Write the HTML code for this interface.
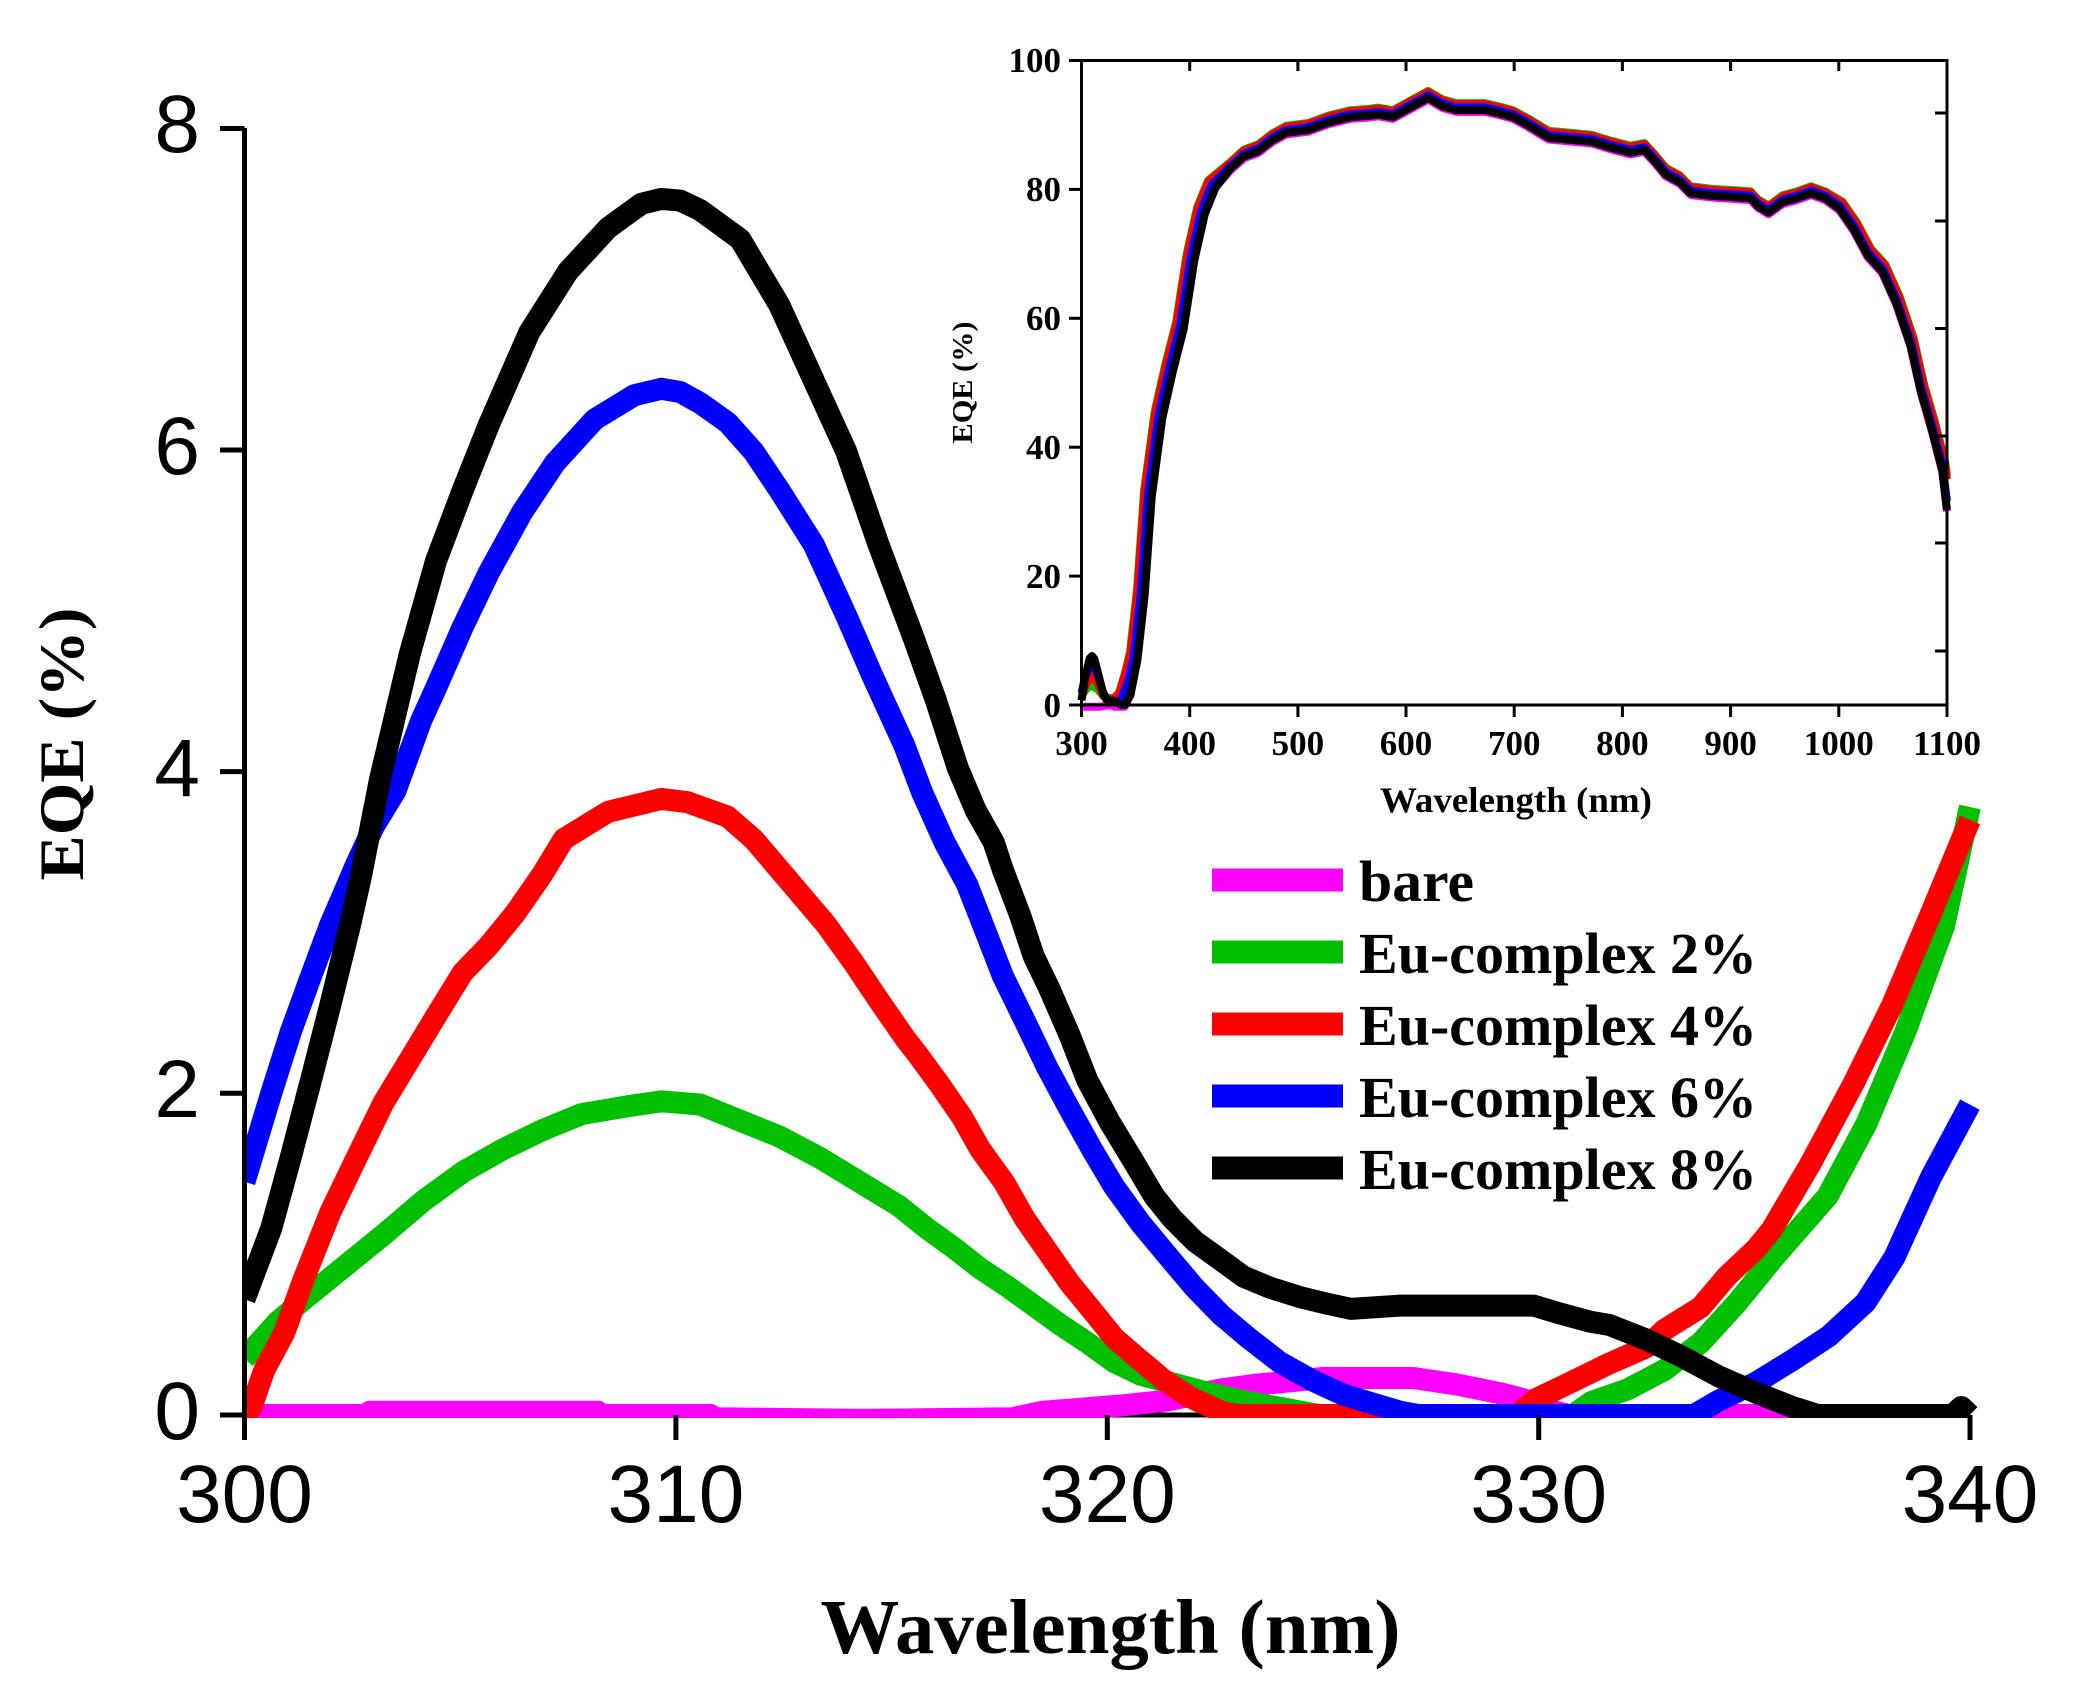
<!DOCTYPE html>
<html><head><meta charset="utf-8"><style>
html,body{margin:0;padding:0;background:#fff;overflow:hidden}
svg{display:block}
.s{font-family:"Liberation Sans",Arial,sans-serif}
.t{font-family:"Liberation Serif","Times New Roman",serif;font-weight:bold}
</style></head><body>
<svg width="2073" height="1707" viewBox="0 0 2073 1707" xmlns="http://www.w3.org/2000/svg">
<rect x="0" y="0" width="2073" height="1707" fill="#fff"/>
<defs><clipPath id="mc"><rect x="242" y="0" width="1760" height="1418"/></clipPath></defs>

<!-- main x axis (under curves) -->
<line x1="244.5" y1="1415" x2="1970" y2="1415" stroke="#000" stroke-width="5"/>

<!-- main curves -->
<g clip-path="url(#mc)">
<g transform="translate(244.5,1415) scale(43.135,-160.85)" fill="none" stroke-width="22" stroke-linejoin="round" stroke-linecap="butt">
<polyline vector-effect="non-scaling-stroke" stroke="#FF00FF" points="0,0 2.8,0 2.9,0.02 8.2,0.02 8.3,0 10.8,0 10.9,-0.02 14.4,-0.03 17.8,-0.02 18.5,0.02 20.37,0.06 21.4,0.09 22.65,0.16 23.5,0.19 25,0.23 27.1,0.23 28.1,0.19 29.2,0.13 29.9,0.08 30.4,0.02 30.7,0 40,0"/>
<polyline vector-effect="non-scaling-stroke" stroke="#00C000" points="0,0.35 0.77,0.58 1.38,0.72 2.3,0.92 3.22,1.12 4.14,1.33 5.06,1.51 5.98,1.65 6.9,1.77 7.81,1.87 8.89,1.92 9.66,1.95 10.57,1.93 11.49,1.83 12.41,1.73 13.33,1.6 14.25,1.45 15.17,1.3 15.82,1.16 16.44,1.04 17.06,0.91 17.68,0.8 18.3,0.68 18.92,0.56 19.54,0.45 20.16,0.33 20.78,0.25 21.61,0.19 22.44,0.13 23.27,0.08 24.1,0.04 24.9,0 30.8,0 31.22,0.08 32.07,0.16 32.92,0.28 33.76,0.45 34.61,0.7 35.46,0.98 36.7,1.36 37.6,1.81 38.5,2.38 39.4,3.04 40,3.78"/>
<polyline vector-effect="non-scaling-stroke" stroke="#FF0000" points="0,0 0.16,0.05 0.46,0.28 0.92,0.51 1.38,0.85 1.99,1.26 2.6,1.6 3.22,1.94 3.83,2.21 4.44,2.48 5.06,2.75 5.67,2.92 6.28,3.12 6.9,3.36 7.4,3.58 8.43,3.75 9.66,3.83 10.27,3.81 11.2,3.72 11.8,3.58 12.72,3.29 13.48,3.05 14.1,2.82 14.7,2.58 15.32,2.34 15.61,2.24 16.1,2.06 16.64,1.85 17.06,1.65 17.6,1.45 18.09,1.22 18.61,1.02 19.13,0.82 19.65,0.65 20.16,0.48 20.68,0.36 21.3,0.22 21.92,0.11 22.65,0.02 23,0 29.5,0 29.95,0.1 30.8,0.21 31.64,0.32 32.49,0.42 32.92,0.53 33.76,0.67 34.36,0.86 35.03,1.03 35.4,1.15 36.3,1.56 37.3,2.06 38.2,2.55 39.1,3.12 40,3.7"/>
<polyline vector-effect="non-scaling-stroke" stroke="#0000FF" points="0,1.45 0.62,2.0 1.07,2.38 1.53,2.72 1.99,3.05 2.6,3.43 3.0,3.66 3.5,3.88 4.1,4.32 4.44,4.52 5.06,4.9 5.67,5.24 6.43,5.61 7.2,5.92 8.12,6.19 9.04,6.34 9.66,6.38 10.1,6.36 10.57,6.29 11.2,6.17 11.8,5.99 12.4,5.75 13.2,5.41 13.95,4.97 14.55,4.6 15.3,4.16 15.71,3.87 16.23,3.56 16.75,3.3 17.16,3.02 17.58,2.73 18.09,2.45 18.61,2.16 19.13,1.9 19.65,1.65 20.16,1.42 20.78,1.19 21.4,0.99 22.03,0.79 22.65,0.62 23.27,0.48 23.99,0.33 24.72,0.22 25.44,0.13 26.17,0.07 26.8,0.02 27.2,0 33.6,0 34.18,0.09 35.03,0.2 35.88,0.34 36.73,0.49 37.58,0.7 38.25,0.98 39.1,1.48 40,1.93"/>
<polyline vector-effect="non-scaling-stroke" stroke="#000000" points="0,0.72 0.62,1.16 1.07,1.6 1.53,2.07 1.99,2.55 2.45,3.05 2.7,3.35 3.14,3.95 3.83,4.73 4.44,5.31 5.06,5.75 5.67,6.16 6.6,6.73 7.5,7.11 8.43,7.38 9.2,7.53 9.66,7.56 10.1,7.55 10.57,7.49 11.49,7.31 12.4,6.9 13.2,6.43 13.95,5.99 14.7,5.41 15.5,4.84 16.02,4.45 16.54,4.02 16.95,3.76 17.37,3.56 17.58,3.39 17.99,3.1 18.3,2.85 18.66,2.65 19.13,2.36 19.54,2.08 20.06,1.82 20.58,1.59 21.09,1.36 21.51,1.22 22.03,1.08 22.65,0.96 23.16,0.86 23.79,0.79 24.51,0.73 25.13,0.69 25.65,0.66 26.78,0.68 29.89,0.68 30.51,0.63 31.2,0.58 31.64,0.56 32.49,0.47 33.34,0.36 34.18,0.24 35.03,0.14 35.88,0.05 36.47,0 39.6,0 39.8,0.05 40,0"/>
</g>
</g>

<!-- main y axis and ticks -->
<g stroke="#000" stroke-width="5" fill="none">
<line x1="244.5" y1="128" x2="244.5" y2="1417"/>
<line x1="220" y1="128.5" x2="244.5" y2="128.5"/>
<line x1="220" y1="450" x2="244.5" y2="450"/>
<line x1="220" y1="771.6" x2="244.5" y2="771.6"/>
<line x1="220" y1="1093.3" x2="244.5" y2="1093.3"/>
<line x1="220" y1="1415" x2="244.5" y2="1415"/>
<line x1="244.5" y1="1415" x2="244.5" y2="1440"/>
<line x1="675.9" y1="1415" x2="675.9" y2="1440"/>
<line x1="1107.3" y1="1415" x2="1107.3" y2="1440"/>
<line x1="1538.7" y1="1415" x2="1538.7" y2="1440"/>
<line x1="1970" y1="1415" x2="1970" y2="1440"/>
</g>
<g class="s" font-size="82" fill="#000" text-anchor="end">
<text x="200" y="152">8</text>
<text x="200" y="474">6</text>
<text x="200" y="796">4</text>
<text x="200" y="1117">2</text>
<text x="200" y="1439">0</text>
</g>
<g class="s" font-size="82" fill="#000" text-anchor="middle">
<text x="244.5" y="1522">300</text>
<text x="675.9" y="1522">310</text>
<text x="1107.3" y="1522">320</text>
<text x="1538.7" y="1522">330</text>
<text x="1970" y="1522">340</text>
</g>
<text class="t" x="1110.5" y="1653" font-size="77" text-anchor="middle" textLength="580" lengthAdjust="spacingAndGlyphs">Wavelength (nm)</text>
<text class="t" transform="translate(83,744) rotate(-90)" x="0" y="0" font-size="64" text-anchor="middle" textLength="273" lengthAdjust="spacingAndGlyphs">EQE (%)</text>

<!-- legend -->
<rect x="1212" y="868.5" width="131" height="23" fill="#FF00FF"/>
<rect x="1212" y="940.5" width="131" height="23" fill="#00C000"/>
<rect x="1212" y="1012.5" width="131" height="23" fill="#FF0000"/>
<rect x="1212" y="1084.5" width="131" height="23" fill="#0000FF"/>
<rect x="1212" y="1156.5" width="131" height="23" fill="#000000"/>
<g class="t" font-size="58" fill="#000">
<text x="1359" y="901" textLength="115" lengthAdjust="spacingAndGlyphs">bare</text>
<text x="1359" y="973" textLength="398" lengthAdjust="spacingAndGlyphs">Eu-complex 2%</text>
<text x="1359" y="1045" textLength="398" lengthAdjust="spacingAndGlyphs">Eu-complex 4%</text>
<text x="1359" y="1117" textLength="398" lengthAdjust="spacingAndGlyphs">Eu-complex 6%</text>
<text x="1359" y="1189" textLength="398" lengthAdjust="spacingAndGlyphs">Eu-complex 8%</text>
</g>

<!-- inset curves -->
<g fill="none" stroke-width="8" stroke-linejoin="round">
<g transform="translate(0,1.7)"><g transform="translate(1081.5,705) scale(1.0818,-6.445)">
<polyline vector-effect="non-scaling-stroke" stroke="#FF00FF" points="0,0 17,0 22,0.15 25,0.23 28,0.19 30.5,0 40,0 44,1.5 50.5,7.1 57,16.9 63.6,32.3 73.4,44.5 83.2,51.8 93.1,58.3 102.9,68.9 112.7,76.2 122.6,80.3 137,83.1 150.1,85.1 163.2,85.9 176.3,87.6 189.4,88.8 209.1,89.2 228.8,90.4 248.4,91.2 264.8,91.4 274.6,91.6 287.7,91.2 300.8,92.4 310.7,93.3 320.5,94.2 333.6,92.9 346.7,92.3 372.9,92.3 386,91.8 399.1,91.2 412.2,90 431.9,88 451.5,87.7 471.2,87.4 490.9,86.4 507.3,85.7 520.4,86.1 530.2,84.3 540,82.3 553.1,81.1 563,79.4 582.6,79 602.3,78.8 618.7,78.6 625.2,77.4 635.1,76.4 648.2,78 661.3,78.6 674.4,79.4 687.5,78.6 700.6,77 713.8,73.8 726.9,69.7 740,67.3 753.1,62.4 766.2,55.9 776,48.6 785.8,42.9 795.7,36.4 800,30.3"/>
</g></g>
<g transform="translate(0,-7)"><g transform="translate(1081.5,705) scale(1.0818,-6.445)">
<polyline vector-effect="non-scaling-stroke" stroke="#00C000" points="0,0.35 5,1.5 9.7,1.95 15,1.3 20,0.35 25,0 31,0 35,0.9 40,3.78 44.8,7.1 51.3,16.9 57.9,32.3 67.7,44.5 77.5,51.8 87.4,58.3 97.2,68.9 107,76.2 116.9,80.3 137,83.1 150.1,85.1 163.2,85.9 176.3,87.6 189.4,88.8 209.1,89.2 228.8,90.4 248.4,91.2 264.8,91.4 274.6,91.6 287.7,91.2 300.8,92.4 310.7,93.3 320.5,94.2 333.6,92.9 346.7,92.3 372.9,92.3 386,91.8 399.1,91.2 412.2,90 431.9,88 451.5,87.7 471.2,87.4 490.9,86.4 507.3,85.7 520.4,86.1 530.2,84.3 540,82.3 553.1,81.1 563,79.4 582.6,79 602.3,78.8 618.7,78.6 625.2,77.4 635.1,76.4 648.2,78 661.3,78.6 674.4,79.4 687.5,78.6 703.6,77 716.8,73.8 729.9,69.7 743,67.3 756.1,62.4 769.2,55.9 779,48.6 788.8,42.9 798.7,36.4 800,34.5"/>
</g></g>
<g transform="translate(0,-6)"><g transform="translate(1081.5,705) scale(1.0818,-6.445)">
<polyline vector-effect="non-scaling-stroke" stroke="#FF0000" points="0,0 3,1.9 9.7,3.82 15,2.4 20,0.5 23,0 29.5,0 35,1.0 40,3.7 45.3,7.1 51.8,16.9 58.4,32.3 68.2,44.5 78,51.8 87.9,58.3 97.7,68.9 107.5,76.2 117.4,80.3 137,83.1 150.1,85.1 163.2,85.9 176.3,87.6 189.4,88.8 209.1,89.2 228.8,90.4 248.4,91.2 264.8,91.4 274.6,91.6 287.7,91.2 300.8,92.4 310.7,93.3 320.5,94.2 333.6,92.9 346.7,92.3 372.9,92.3 386,91.8 399.1,91.2 412.2,90 431.9,88 451.5,87.7 471.2,87.4 490.9,86.4 507.3,85.7 520.4,86.1 530.2,84.3 540,82.3 553.1,81.1 563,79.4 582.6,79 602.3,78.8 618.7,78.6 625.2,77.4 635.1,76.4 648.2,78 661.3,78.6 674.4,79.4 687.5,78.6 703.3,77 716.5,73.8 729.6,69.7 742.7,67.3 755.8,62.4 768.9,55.9 778.7,48.6 788.5,42.9 798.4,36.4 800,34.1"/>
</g></g>
<g transform="translate(0,-2.7)"><g transform="translate(1081.5,705) scale(1.0818,-6.445)">
<polyline vector-effect="non-scaling-stroke" stroke="#0000FF" points="0,1.45 3,3.7 9.7,6.38 15,4.3 20,1.5 24,0.35 27,0 33.6,0 37,0.55 40,1.93 41.8,2.5 48.4,7.1 54.9,16.9 61.5,32.3 71.3,44.5 81.1,51.8 91,58.3 100.8,68.9 110.6,76.2 120.5,80.3 137,83.1 150.1,85.1 163.2,85.9 176.3,87.6 189.4,88.8 209.1,89.2 228.8,90.4 248.4,91.2 264.8,91.4 274.6,91.6 287.7,91.2 300.8,92.4 310.7,93.3 320.5,94.2 333.6,92.9 346.7,92.3 372.9,92.3 386,91.8 399.1,91.2 412.2,90 431.9,88 451.5,87.7 471.2,87.4 490.9,86.4 507.3,85.7 520.4,86.1 530.2,84.3 540,82.3 553.1,81.1 563,79.4 582.6,79 602.3,78.8 618.7,78.6 625.2,77.4 635.1,76.4 648.2,78 661.3,78.6 674.4,79.4 687.5,78.6 701.2,77 714.4,73.8 727.5,69.7 740.6,67.3 753.7,62.4 766.8,55.9 776.6,48.6 786.4,42.9 796.3,36.4 800,31.2"/>
</g></g>
<g transform="translate(1081.5,705) scale(1.0818,-6.445)">
<polyline vector-effect="non-scaling-stroke" stroke="#000000" points="0,0.72 3,4 7.5,7.2 9.7,7.6 12,7.1 16,4.45 20,1.85 23,0.9 26,0.66 30,0.67 33,0.4 36.5,0 40,0 45.2,1.5 51.8,7.1 58.3,16.9 64.9,32.3 74.7,44.5 84.5,51.8 94.4,58.3 104.2,68.9 114,76.2 123.9,80.3 137,83.1 150.1,85.1 163.2,85.9 176.3,87.6 189.4,88.8 209.1,89.2 228.8,90.4 248.4,91.2 264.8,91.4 274.6,91.6 287.7,91.2 300.8,92.4 310.7,93.3 320.5,94.2 333.6,92.9 346.7,92.3 372.9,92.3 386,91.8 399.1,91.2 412.2,90 431.9,88 451.5,87.7 471.2,87.4 490.9,86.4 507.3,85.7 520.4,86.1 530.2,84.3 540,82.3 553.1,81.1 563,79.4 582.6,79 602.3,78.8 618.7,78.6 625.2,77.4 635.1,76.4 648.2,78 661.3,78.6 674.4,79.4 687.5,78.6 700.6,77 713.8,73.8 726.9,69.7 740,67.3 753.1,62.4 766.2,55.9 776,48.6 785.8,42.9 795.7,36.4 800,30.3"/>
</g>
</g>

<!-- inset frame and ticks -->
<g stroke="#000" stroke-width="3" fill="none">
<rect x="1081.5" y="60.5" width="865.5" height="644.5"/>
<line x1="1069" y1="705" x2="1081.5" y2="705"/>
<line x1="1069" y1="576.1" x2="1081.5" y2="576.1"/>
<line x1="1069" y1="447.2" x2="1081.5" y2="447.2"/>
<line x1="1069" y1="318.3" x2="1081.5" y2="318.3"/>
<line x1="1069" y1="189.4" x2="1081.5" y2="189.4"/>
<line x1="1069" y1="60.5" x2="1081.5" y2="60.5"/>
<line x1="1081.5" y1="705" x2="1081.5" y2="717"/>
<line x1="1189.7" y1="705" x2="1189.7" y2="717"/>
<line x1="1297.9" y1="705" x2="1297.9" y2="717"/>
<line x1="1406" y1="705" x2="1406" y2="717"/>
<line x1="1514.2" y1="705" x2="1514.2" y2="717"/>
<line x1="1622.4" y1="705" x2="1622.4" y2="717"/>
<line x1="1730.6" y1="705" x2="1730.6" y2="717"/>
<line x1="1838.8" y1="705" x2="1838.8" y2="717"/>
<line x1="1947" y1="705" x2="1947" y2="717"/>
<line x1="1189.7" y1="60.5" x2="1189.7" y2="71"/>
<line x1="1297.9" y1="60.5" x2="1297.9" y2="71"/>
<line x1="1406" y1="60.5" x2="1406" y2="71"/>
<line x1="1514.2" y1="60.5" x2="1514.2" y2="71"/>
<line x1="1622.4" y1="60.5" x2="1622.4" y2="71"/>
<line x1="1730.6" y1="60.5" x2="1730.6" y2="71"/>
<line x1="1838.8" y1="60.5" x2="1838.8" y2="71"/>
<line x1="1935" y1="113" x2="1947" y2="113"/>
<line x1="1935" y1="221" x2="1947" y2="221"/>
<line x1="1935" y1="328.5" x2="1947" y2="328.5"/>
<line x1="1935" y1="436" x2="1947" y2="436"/>
<line x1="1935" y1="543" x2="1947" y2="543"/>
<line x1="1935" y1="651" x2="1947" y2="651"/>
</g>
<g class="t" font-size="35" fill="#000" text-anchor="end">
<text x="1061" y="717">0</text>
<text x="1061" y="588">20</text>
<text x="1061" y="459">40</text>
<text x="1061" y="330">60</text>
<text x="1061" y="201">80</text>
<text x="1061" y="72">100</text>
</g>
<g class="t" font-size="35" fill="#000" text-anchor="middle">
<text x="1081.5" y="755">300</text>
<text x="1189.7" y="755">400</text>
<text x="1297.9" y="755">500</text>
<text x="1406" y="755">600</text>
<text x="1514.2" y="755">700</text>
<text x="1622.4" y="755">800</text>
<text x="1730.6" y="755">900</text>
<text x="1838.8" y="755">1000</text>
<text x="1947" y="755">1100</text>
</g>
<text class="t" x="1516" y="812" font-size="36" text-anchor="middle" textLength="272" lengthAdjust="spacingAndGlyphs">Wavelength (nm)</text>
<text class="t" transform="translate(972,382.5) rotate(-90)" x="0" y="0" font-size="29" text-anchor="middle" textLength="122" lengthAdjust="spacingAndGlyphs">EQE (%)</text>
</svg>
</body></html>
